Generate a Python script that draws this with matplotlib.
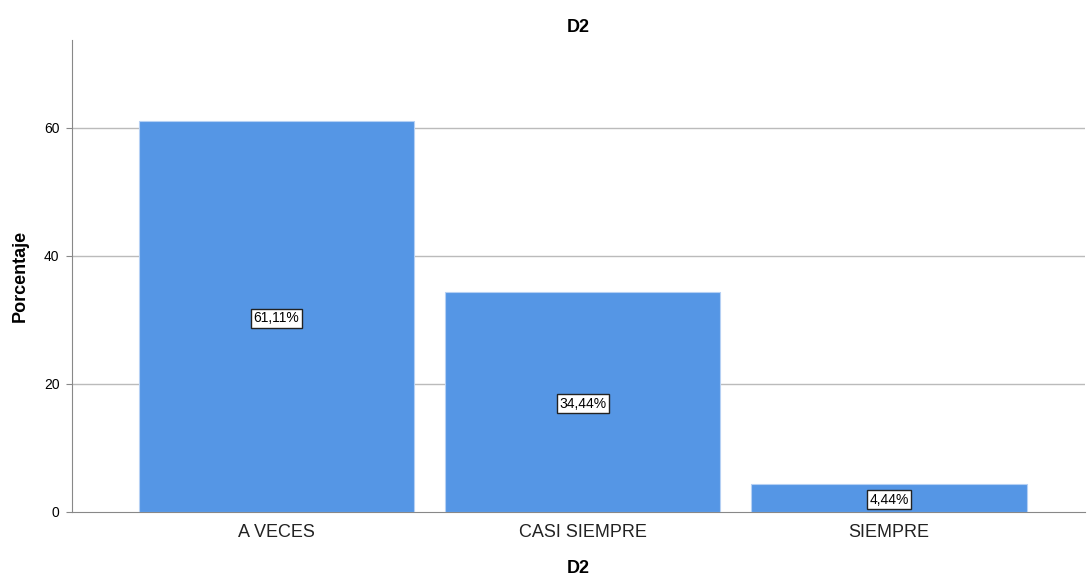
import matplotlib
matplotlib.use("Agg")
from matplotlib import pyplot as plt

categories = ["A VECES", "CASI SIEMPRE", "SIEMPRE"]
percentages = [61.11, 34.44, 4.44]
labels = ["61,11%", "34,44%", "4,44%"]
y_ticks = [0, 20, 40, 60]

plt.rcParams['font.family'] = ['Liberation Sans', 'DejaVu Sans']

fig = plt.figure(figsize=(10.87, 5.77), dpi=100)
ax = fig.add_axes([0.0662, 0.1127, 0.9318, 0.818])

positions = range(len(categories))
ax.bar(positions, percentages, width=0.9, color='#5596e5',
       edgecolor='#b5d0f4', linewidth=0.8, zorder=3)

for x, v, lab in zip(positions, percentages, labels):
    ax.text(x, v / 2 - 0.3, lab, ha='center', va='center', fontsize=10, zorder=4,
            bbox=dict(boxstyle='square,pad=0.18', facecolor='white',
                      edgecolor='#222222', linewidth=1))

ax.set_xlim(-0.668, 2.64)
ax.set_ylim(0, 73.75)
ax.set_xticks(list(positions))
ax.set_xticklabels(categories, fontsize=13, color='#222222')
ax.set_yticks(y_ticks)
ax.tick_params(axis='y', labelsize=10, length=4, color='#888888', pad=5)
ax.tick_params(axis='x', length=0, pad=9)

for t in y_ticks[1:]:
    ax.axhline(t, color='#bbbbbb', linewidth=1, zorder=1)

for side in ['top', 'right']:
    ax.spines[side].set_visible(False)
ax.spines['left'].set_color('#888888')
ax.spines['bottom'].set_color('#888888')

ax.set_title('D2', fontsize=13, fontweight='bold', pad=6)
ax.set_xlabel('D2', fontsize=13, fontweight='bold', labelpad=13)
ax.set_ylabel('Porcentaje', fontsize=13, fontweight='bold', labelpad=11)

fig.savefig('out.png', dpi=100)
